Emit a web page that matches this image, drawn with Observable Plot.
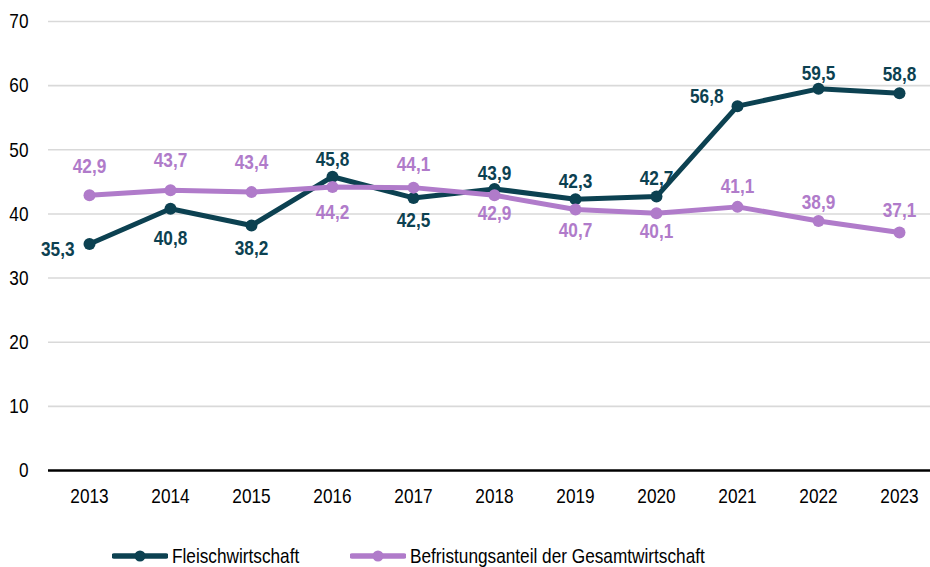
<!DOCTYPE html>
<html>
<head>
<meta charset="utf-8">
<script src="https://cdn.jsdelivr.net/npm/d3@7"></script>
<script src="https://cdn.jsdelivr.net/npm/@observablehq/plot@0.6"></script>
<style>
  html, body { margin: 0; padding: 0; background: #fff; }
  #wrap { width: 930px; font-family: "Liberation Sans", Arial, sans-serif; }
  #legend { position: relative; width: 930px; height: 42px; font-size: 21px; color: #000; }
  .item { position: absolute; top: 31px; transform: translateY(-50%); display: flex; align-items: center; white-space: nowrap; }
  .item svg { margin-right: 4px; }
  .item span { display: inline-block; transform: scaleX(0.82); transform-origin: left center; }
</style>
</head>
<body>
<div id="wrap">
  <div id="chart"></div>
  <div id="legend"></div>
</div>
<script>
// ---- data ----
const years = [2013, 2014, 2015, 2016, 2017, 2018, 2019, 2020, 2021, 2022, 2023];
const fleisch = [35.3, 40.8, 38.2, 45.8, 42.5, 43.9, 42.3, 42.7, 56.8, 59.5, 58.8];
const gesamt  = [42.9, 43.7, 43.4, 44.2, 44.1, 42.9, 40.7, 40.1, 41.1, 38.9, 37.1];
const seriesNames = ["Fleischwirtschaft", "Befristungsanteil der Gesamtwirtschaft"];
const yTicks = [0, 10, 20, 30, 40, 50, 60, 70];

// ---- styles ----
const colors = ["#0c4151", "#b07bca"];
const narrow = 0.82; // emulate a condensed face
// label placement (style): dx, dy, anchor per point
const fleischLabelStyle = [
  [-15, 5, "end"], [0, 29, "middle"], [0, 23, "middle"], [0, -17, "middle"], [0, 22, "middle"],
  [0, -16, "middle"], [0, -18, "middle"], [0, -18, "middle"], [-14, -10, "end"], [0, -16, "middle"], [0, -19, "middle"]
];
const gesamtLabelStyle = [
  [0, -29, "middle"], [0, -30, "middle"], [0, -30, "middle"], [0, 25, "middle"], [0, -23, "middle"],
  [0, 18, "middle"], [0, 21, "middle"], [0, 18, "middle"], [0, -21, "middle"], [0, -19, "middle"], [0, -22, "middle"]
];

const fmt = v => v.toFixed(1).replace(".", ",");
const rowsF = years.map((y, i) => ({year: y, value: fleisch[i], st: fleischLabelStyle[i]}));
const rowsG = years.map((y, i) => ({year: y, value: gesamt[i], st: gesamtLabelStyle[i]}));

const font = `"Liberation Sans", Arial, sans-serif`;

function labels(rows, color) {
  return rows.map(r => Plot.text([r], {
    x: "year", y: "value", text: d => fmt(d.value),
    dx: r.st[0], dy: r.st[1], textAnchor: r.st[2],
    fill: color, fontWeight: "bold", fontSize: 21
  }));
}

const chart = Plot.plot({
  width: 930,
  height: 525,
  marginLeft: 48,
  marginRight: 0,
  marginTop: 21,
  marginBottom: 55,
  style: { fontFamily: font, fontSize: "21px", color: "#000", background: "#fff" },
  x: { type: "point", domain: years, range: [88, 900], padding: 0, label: null },
  y: { domain: [0, 70], label: null },
  marks: [
    Plot.ruleY(yTicks.filter(t => t > 0), { stroke: "#d9d9d9", strokeWidth: 1.6 }),
    Plot.ruleY([0], { stroke: "#000", strokeWidth: 2.5 }),
    Plot.axisY({ ticks: yTicks, tickSize: 0, tickPadding: 20, label: null, fontSize: 21 }),
    Plot.axisX({ tickSize: 0, tickPadding: 18, tickFormat: d => String(d), label: null, fontSize: 21 }),
    Plot.line(rowsF, { x: "year", y: "value", stroke: colors[0], strokeWidth: 5 }),
    Plot.dot(rowsF, { x: "year", y: "value", fill: colors[0], r: 6 }),
    Plot.line(rowsG, { x: "year", y: "value", stroke: colors[1], strokeWidth: 5 }),
    Plot.dot(rowsG, { x: "year", y: "value", fill: colors[1], r: 6 }),
    ...labels(rowsF, colors[0]),
    ...labels(rowsG, colors[1])
  ]
});
document.getElementById("chart").appendChild(chart);

// condense all SVG text horizontally to mimic the narrow face
chart.querySelectorAll("text").forEach(t => {
  const len = t.getComputedTextLength();
  if (len > 0) {
    t.setAttribute("textLength", (len * narrow).toFixed(2));
    t.setAttribute("lengthAdjust", "spacingAndGlyphs");
  }
});

// ---- legend ----
const legendLefts = [112, 350];
const legend = document.getElementById("legend");
seriesNames.forEach((name, i) => {
  const item = document.createElement("div");
  item.className = "item";
  item.style.left = legendLefts[i] + "px";
  item.innerHTML = `<svg width="56" height="14"><line x1="2" x2="54" y1="7" y2="7" stroke="${colors[i]}" stroke-width="5.5" stroke-linecap="round"/><circle cx="28" cy="7" r="5.5" fill="${colors[i]}"/></svg><span>${name}</span>`;
  legend.appendChild(item);
});
</script>
</body>
</html>
